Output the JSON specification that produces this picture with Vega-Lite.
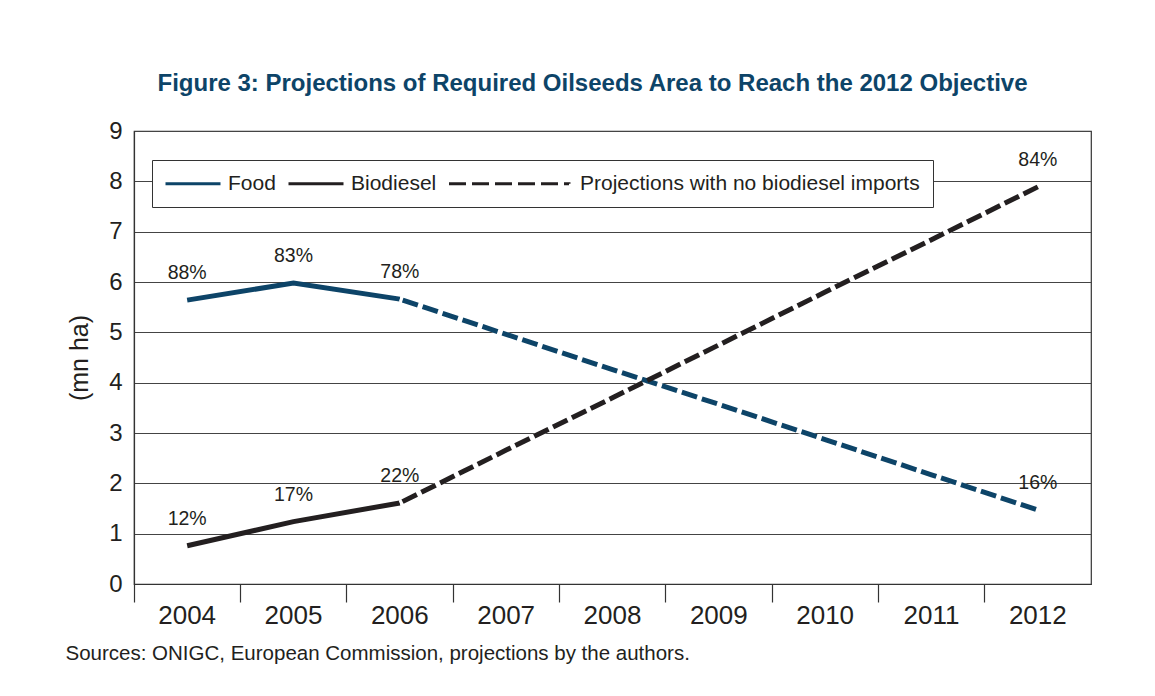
{
  "$schema": "https://vega.github.io/schema/vega-lite/v6.json",
  "width": 957,
  "height": 453,
  "autosize": {"type": "none"},
  "padding": {"left": 134, "top": 131, "right": 64, "bottom": 112},
  "background": "white",
  "config": {
    "view": {"stroke": "#333333", "strokeWidth": 1.2},
    "font": "Liberation Sans"
  },
  "title": {
    "text": "Figure 3: Projections of Required Oilseeds Area to Reach the 2012 Objective",
    "color": "#0d4468",
    "fontSize": 24,
    "fontWeight": "bold",
    "font": "Liberation Sans",
    "anchor": "middle",
    "dx": -20,
    "offset": 23
  },
  "datasets": {
    "series": [
      {"series": "Food", "part": "actual", "year": "2004", "value": 5.64},
      {"series": "Food", "part": "actual", "year": "2005", "value": 5.98},
      {"series": "Food", "part": "actual", "year": "2006", "value": 5.66},
      {"series": "Food", "part": "projection", "year": "2006", "value": 5.66},
      {"series": "Food", "part": "projection", "year": "2007", "value": 4.96},
      {"series": "Food", "part": "projection", "year": "2008", "value": 4.26},
      {"series": "Food", "part": "projection", "year": "2009", "value": 3.57},
      {"series": "Food", "part": "projection", "year": "2010", "value": 2.87},
      {"series": "Food", "part": "projection", "year": "2011", "value": 2.17},
      {"series": "Food", "part": "projection", "year": "2012", "value": 1.47},
      {"series": "Biodiesel", "part": "actual", "year": "2004", "value": 0.76},
      {"series": "Biodiesel", "part": "actual", "year": "2005", "value": 1.24},
      {"series": "Biodiesel", "part": "actual", "year": "2006", "value": 1.61},
      {"series": "Biodiesel", "part": "projection", "year": "2006", "value": 1.61},
      {"series": "Biodiesel", "part": "projection", "year": "2007", "value": 2.66},
      {"series": "Biodiesel", "part": "projection", "year": "2008", "value": 3.7},
      {"series": "Biodiesel", "part": "projection", "year": "2009", "value": 4.75},
      {"series": "Biodiesel", "part": "projection", "year": "2010", "value": 5.8},
      {"series": "Biodiesel", "part": "projection", "year": "2011", "value": 6.84},
      {"series": "Biodiesel", "part": "projection", "year": "2012", "value": 7.89}
    ],
    "labels": [
      {"year": "2004", "value": 5.64, "label": "88%"},
      {"year": "2005", "value": 5.98, "label": "83%"},
      {"year": "2006", "value": 5.66, "label": "78%"},
      {"year": "2004", "value": 0.76, "label": "12%"},
      {"year": "2005", "value": 1.24, "label": "17%"},
      {"year": "2006", "value": 1.61, "label": "22%"},
      {"year": "2012", "value": 7.89, "label": "84%"},
      {"year": "2012", "value": 1.47, "label": "16%"}
    ],
    "legend": [
      {"key": "Food", "year": "2004", "value": 0},
      {"key": "Biodiesel", "year": "2004", "value": 0},
      {"key": "Projections with no biodiesel imports", "year": "2004", "value": 0}
    ]
  },
  "encoding": {
    "x": {
      "field": "year",
      "type": "ordinal",
      "bandPosition": 0.5,
      "scale": {"type": "band", "paddingInner": 0, "paddingOuter": 0, "domain": ["2004","2005","2006","2007","2008","2009","2010","2011","2012"]},
      "axis": {
        "title": "Sources: ONIGC, European Commission, projections by the authors.",
        "titleAnchor": "start",
        "titleAlign": "left",
        "titleX": -69,
        "titleY": 75,
        "titleBaseline": "alphabetic",
        "titleFontSize": 20.5,
        "titleFontWeight": "normal",
        "titleColor": "#231f20",
        "labelAngle": 0,
        "labelFontSize": 26,
        "labelColor": "#231f20",
        "labelPadding": 0,
        "tickSize": 18,
        "tickColor": "#333333",
        "tickWidth": 1.2,
        "bandPosition": 0,
        "domainColor": "#333333",
        "domainWidth": 1.2,
        "grid": false
      }
    },
    "y": {
      "field": "value",
      "type": "quantitative",
      "scale": {"domain": [0, 9], "nice": false},
      "axis": {
        "values": [0,1,2,3,4,5,6,7,8,9],
        "title": "(mn ha)",
        "titleFontSize": 25,
        "titleFontWeight": "normal",
        "titleColor": "#231f20",
        "titlePadding": 16,
        "labelFontSize": 24,
        "labelColor": "#231f20",
        "labelPadding": 12,
        "ticks": false,
        "domainColor": "#333333",
        "domainWidth": 1.2,
        "grid": true,
        "gridColor": "#444444",
        "gridWidth": 1.1
      }
    }
  },
  "layer": [
    {
      "data": {"name": "series"},
      "transform": [{"filter": "datum.part === 'actual'"}],
      "mark": {"type": "line", "strokeWidth": 5, "strokeJoin": "miter", "strokeCap": "butt"},
      "encoding": {
        "stroke": {"field": "series", "type": "nominal", "scale": {"domain": ["Food", "Biodiesel"], "range": ["#0d4468", "#231f20"]}, "legend": null}
      }
    },
    {
      "data": {"name": "series"},
      "transform": [{"filter": "datum.part === 'projection'"}],
      "mark": {"type": "line", "strokeWidth": 5, "stroke": "white", "strokeCap": "butt"},
      "encoding": {"detail": {"field": "series", "type": "nominal"}}
    },
    {
      "data": {"name": "series"},
      "transform": [{"filter": "datum.part === 'projection'"}],
      "mark": {"type": "line", "strokeWidth": 5, "strokeDash": [16, 5], "strokeDashOffset": -3, "strokeCap": "butt"},
      "encoding": {
        "stroke": {"field": "series", "type": "nominal", "legend": null}
      }
    },
    {
      "data": {"name": "labels"},
      "mark": {"type": "text", "fontSize": 19.5, "color": "#231f20", "baseline": "alphabetic", "dy": -21},
      "encoding": {"text": {"field": "label", "type": "nominal"}}
    },
    {
      "data": {"name": "legend"},
      "mark": {"type": "line", "strokeWidth": 3, "strokeCap": "butt"},
      "encoding": {
        "color": {
          "field": "key",
          "type": "nominal",
          "scale": {"domain": ["Food", "Biodiesel", "Projections with no biodiesel imports"], "range": ["#0d4468", "#231f20", "#231f20"]},
          "legend": {
            "title": null,
            "orient": "none",
            "legendX": 18,
            "legendY": 29,
            "direction": "horizontal",
            "fillColor": "white",
            "strokeColor": "#333333",
            "padding": 13,
            "columnPadding": 6,
            "symbolType": "stroke",
            "symbolSize": 30,
            "symbolStrokeWidth": 3,
            "symbolOpacity": 1,
            "labelFontSize": 21,
            "labelColor": "#231f20",
            "labelOffset": 8,
            "labelLimit": 500,
            "encode": {
              "symbols": {
                "update": {
                  "size": {"signal": "datum.value === 'Projections with no biodiesel imports' ? 144 : 30.25"},
                  "x": {"signal": "datum.value === 'Projections with no biodiesel imports' ? 60 : 28"},
                  "shape": {"value": "M-10,0L10,0L10,0.003"},
                  "strokeDash": {"signal": "datum.value === 'Projections with no biodiesel imports' ? [17, 6] : [1, 0]"},
                  "stroke": [
                    {"test": "datum.value === 'Projections with no biodiesel imports'", "value": {"gradient": "linear", "x1": 0, "y1": 0, "x2": 1, "y2": 0, "stops": [{"offset": 0, "color": "#0d4468"}, {"offset": 0.5, "color": "#0d4468"}, {"offset": 0.5, "color": "#231f20"}, {"offset": 1, "color": "#231f20"}]}},
                    {"scale": "color", "field": "value"}
                  ]
                }
              },
              "labels": {
                "update": {
                  "x": {"signal": "datum.value === 'Projections with no biodiesel imports' ? 131 : 63"}
                }
              }
            }
          }
        }
      }
    }
  ]
}
